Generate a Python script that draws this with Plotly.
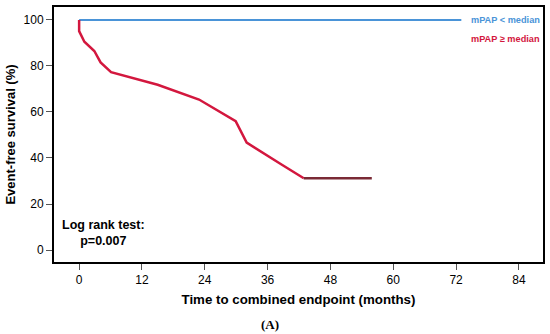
import plotly.graph_objects as go

# Data
low_time = [0, 73.0]
low_surv = [100, 100]

high_time = [0, 0, 1.0, 2.9, 4.1, 6.1, 15.0, 22.9, 29.9, 32.0, 38.5, 42.9]
high_surv = [100, 95.1, 90.5, 86.5, 81.5, 77.3, 71.8, 65.4, 56.0, 46.7, 37.4, 31.2]

tail_time = [42.9, 55.9]
tail_surv = [31.2, 31.2]

x_ticks = [0, 12, 24, 36, 48, 60, 72, 84]
y_ticks = [0, 20, 40, 60, 80, 100]

BLUE = "#4a94d8"
RED = "#d3173e"
DARK = "#7a2a35"

fig = go.Figure()
fig.add_trace(go.Scatter(x=low_time, y=low_surv, mode="lines",
                         line=dict(color=BLUE, width=2), showlegend=False))
fig.add_trace(go.Scatter(x=high_time, y=high_surv, mode="lines",
                         line=dict(color=RED, width=2.5), showlegend=False))
fig.add_trace(go.Scatter(x=tail_time, y=tail_surv, mode="lines",
                         line=dict(color=DARK, width=2.5), showlegend=False))

fig.update_layout(
    width=550, height=334,
    margin=dict(l=54, r=7, t=5, b=72),
    plot_bgcolor="white", paper_bgcolor="white",
    font=dict(family="Liberation Sans, Arial", color="black", size=12),
    xaxis=dict(range=[-4.8, 88.6], tickvals=x_ticks, ticks="outside",
               ticklen=6, tickcolor="#555", showgrid=False, zeroline=False,
               showline=True, linecolor="black", linewidth=2, mirror=True,
               title=dict(text="<b>Time to combined endpoint (months)</b>",
                          font=dict(size=13.3), standoff=8)),
    yaxis=dict(range=[-5.2, 105.6], tickvals=y_ticks, ticks="outside",
               ticklen=6, tickcolor="#555", showgrid=False, zeroline=False,
               showline=True, linecolor="black", linewidth=2, mirror=True,
               title=dict(text="<b>Event-free survival (%)</b>",
                          font=dict(size=13), standoff=5)),
)

fig.add_annotation(x=1.0, y=1.0, xref="paper", yref="paper", xanchor="right",
                   yanchor="middle", xshift=-1, yshift=-13,
                   text="<b>mPAP &lt; median</b>", showarrow=False,
                   font=dict(size=9.2, color=BLUE))
fig.add_annotation(x=1.0, y=1.0, xref="paper", yref="paper", xanchor="right",
                   yanchor="middle", xshift=-1, yshift=-32,
                   text="<b>mPAP ≥ median</b>", showarrow=False,
                   font=dict(size=9.2, color=RED))
fig.add_annotation(x=0.0, y=0.0, xref="paper", yref="paper", xanchor="left",
                   yanchor="bottom", xshift=6, yshift=12,
                   text="<b>Log rank test:</b><br><b>p=0.007</b>", showarrow=False,
                   align="center", font=dict(size=12.5))
fig.add_annotation(x=0.441, y=0, xref="paper", yref="paper", xanchor="center",
                   yanchor="top", yshift=-53, text="<b>(A)</b>", showarrow=False,
                   font=dict(family="Liberation Serif, Times New Roman", size=13))

fig.write_html("out.html", config={"displayModeBar": False},
               post_script="document.body.style.margin='0';document.body.style.overflow='hidden';")
